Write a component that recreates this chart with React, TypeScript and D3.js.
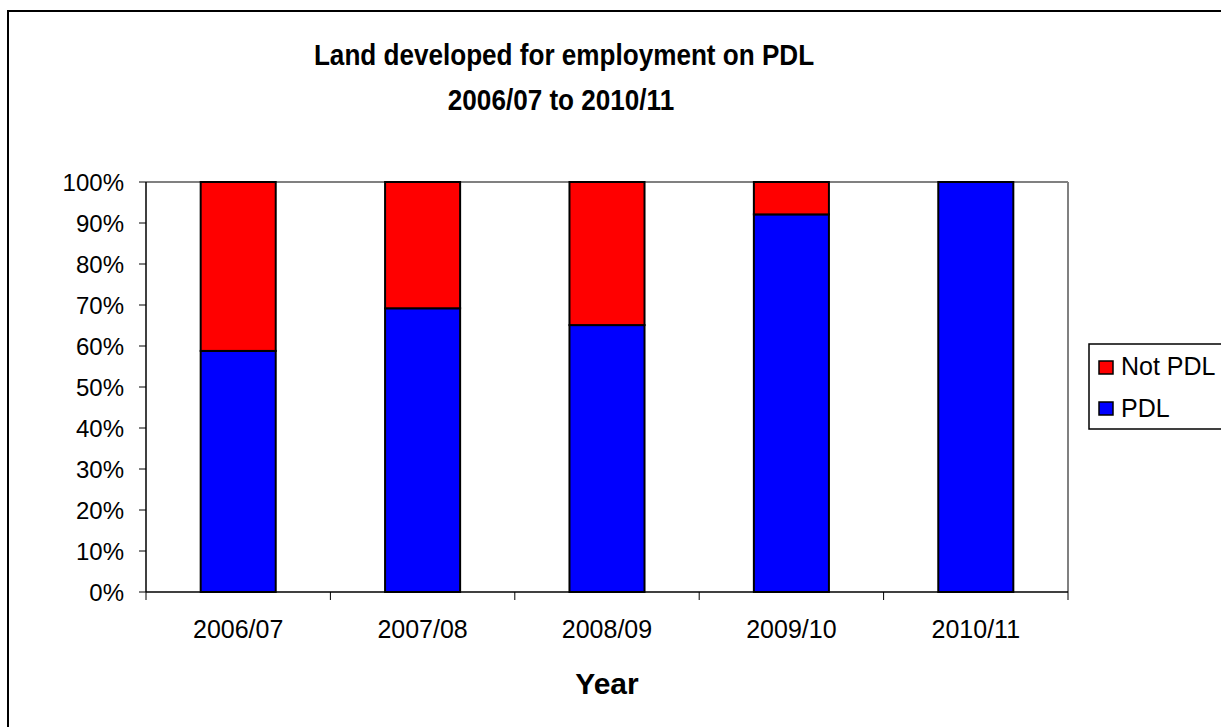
import React from "react";
import * as d3 from "d3";

const categories = ["2006/07", "2007/08", "2008/09", "2009/10", "2010/11"];
const pdl = [58.8, 69.2, 65.1, 92.1, 100];
const notPdl = [41.2, 30.8, 34.9, 7.9, 0];
const yTicks = [0, 10, 20, 30, 40, 50, 60, 70, 80, 90, 100];
const seriesNames = ["Not PDL", "PDL"];
const seriesColors = ["#ff0000", "#0000ff"];

const W = 1221;
const H = 727;
const left = 146, right = 1068, top = 182, bottom = 592;
const FONT = "Arial, 'Liberation Sans', sans-serif";

export default function App() {
  const x = d3.scaleBand<string>().domain(categories).range([left, right]).paddingInner(0).paddingOuter(0);
  const y = d3.scaleLinear().domain([0, 100]).range([bottom, top]);
  const barW = x.bandwidth() * 0.407;
  const rows = categories.map((c, i) => ({ cat: c, pdl: pdl[i], notPdl: notPdl[i] }));
  const stack = d3.stack<any>().keys(["pdl", "notPdl"])(rows);
  const colorFor: Record<string, string> = { pdl: seriesColors[1], notPdl: seriesColors[0] };
  const boundaries = [...categories.map((c) => x(c) as number), right];

  return (
    <svg width={W} height={H} style={{ position: "absolute", left: 0, top: 0, background: "#fff" }}>
      <rect x={8} y={11} width={1240} height={740} fill="#fff" stroke="#000" strokeWidth={2} />
      {/* plot border */}
      <line x1={left} y1={top} x2={right} y2={top} stroke="#808080" strokeWidth={2} />
      <line x1={right} y1={top} x2={right} y2={bottom} stroke="#808080" strokeWidth={2} />
      {/* bars */}
      {stack.map((s) => (
        <g key={s.key}>
          {s.map((d, i) => {
            const h = y(d[0]) - y(d[1]);
            if (h <= 0) return null;
            const cx = (x(categories[i]) as number) + x.bandwidth() / 2;
            return (
              <rect key={i} x={cx - barW / 2} y={y(d[1])} width={barW} height={h}
                fill={colorFor[s.key]} stroke="#000" strokeWidth={2} />
            );
          })}
        </g>
      ))}
      {/* y axis */}
      <line x1={left} y1={top} x2={left} y2={bottom} stroke="#000" strokeWidth={1.5} />
      {yTicks.map((t) => (
        <g key={t}>
          <line x1={left - 7} x2={left} y1={y(t)} y2={y(t)} stroke="#000" strokeWidth={1} />
          <text x={124} y={y(t) + 8.5} textAnchor="end"
            fontFamily={FONT} fontSize={24} fill="#000">{t}%</text>
        </g>
      ))}
      {/* x axis */}
      <line x1={left} y1={bottom} x2={right} y2={bottom} stroke="#000" strokeWidth={1.5} />
      {boundaries.map((b, i) => (
        <line key={i} x1={b} x2={b} y1={bottom} y2={bottom + 8} stroke="#000" strokeWidth={1} />
      ))}
      {categories.map((c) => (
        <text key={c} x={(x(c) as number) + x.bandwidth() / 2} y={638}
          textAnchor="middle" fontFamily={FONT} fontSize={25} fill="#000">{c}</text>
      ))}
      <text x={(left + right) / 2} y={694} textAnchor="middle"
        fontFamily={FONT} fontSize={30} fontWeight="bold" fill="#000">Year</text>
      {/* title */}
      <text transform={`translate(564,65) scale(0.87,1)`} textAnchor="middle" fontFamily={FONT} fontSize={30} fontWeight="bold" fill="#000">
        Land developed for employment on PDL
      </text>
      <text transform={`translate(561,110) scale(0.87,1)`} textAnchor="middle" fontFamily={FONT} fontSize={30} fontWeight="bold" fill="#000">
        2006/07 to 2010/11
      </text>
      {/* legend */}
      <rect x={1089} y={344} width={160} height={85} fill="#fff" stroke="#000" strokeWidth={1.5} />
      {seriesNames.map((n, i) => (
        <g key={n}>
          <rect x={1099} y={361 + i * 41} width={14} height={13} fill={seriesColors[i]} stroke="#000" strokeWidth={1.5} />
          <text x={1121} y={375 + i * 41.5} fontFamily={FONT} fontSize={25} fill="#000">{n}</text>
        </g>
      ))}
    </svg>
  );
}
